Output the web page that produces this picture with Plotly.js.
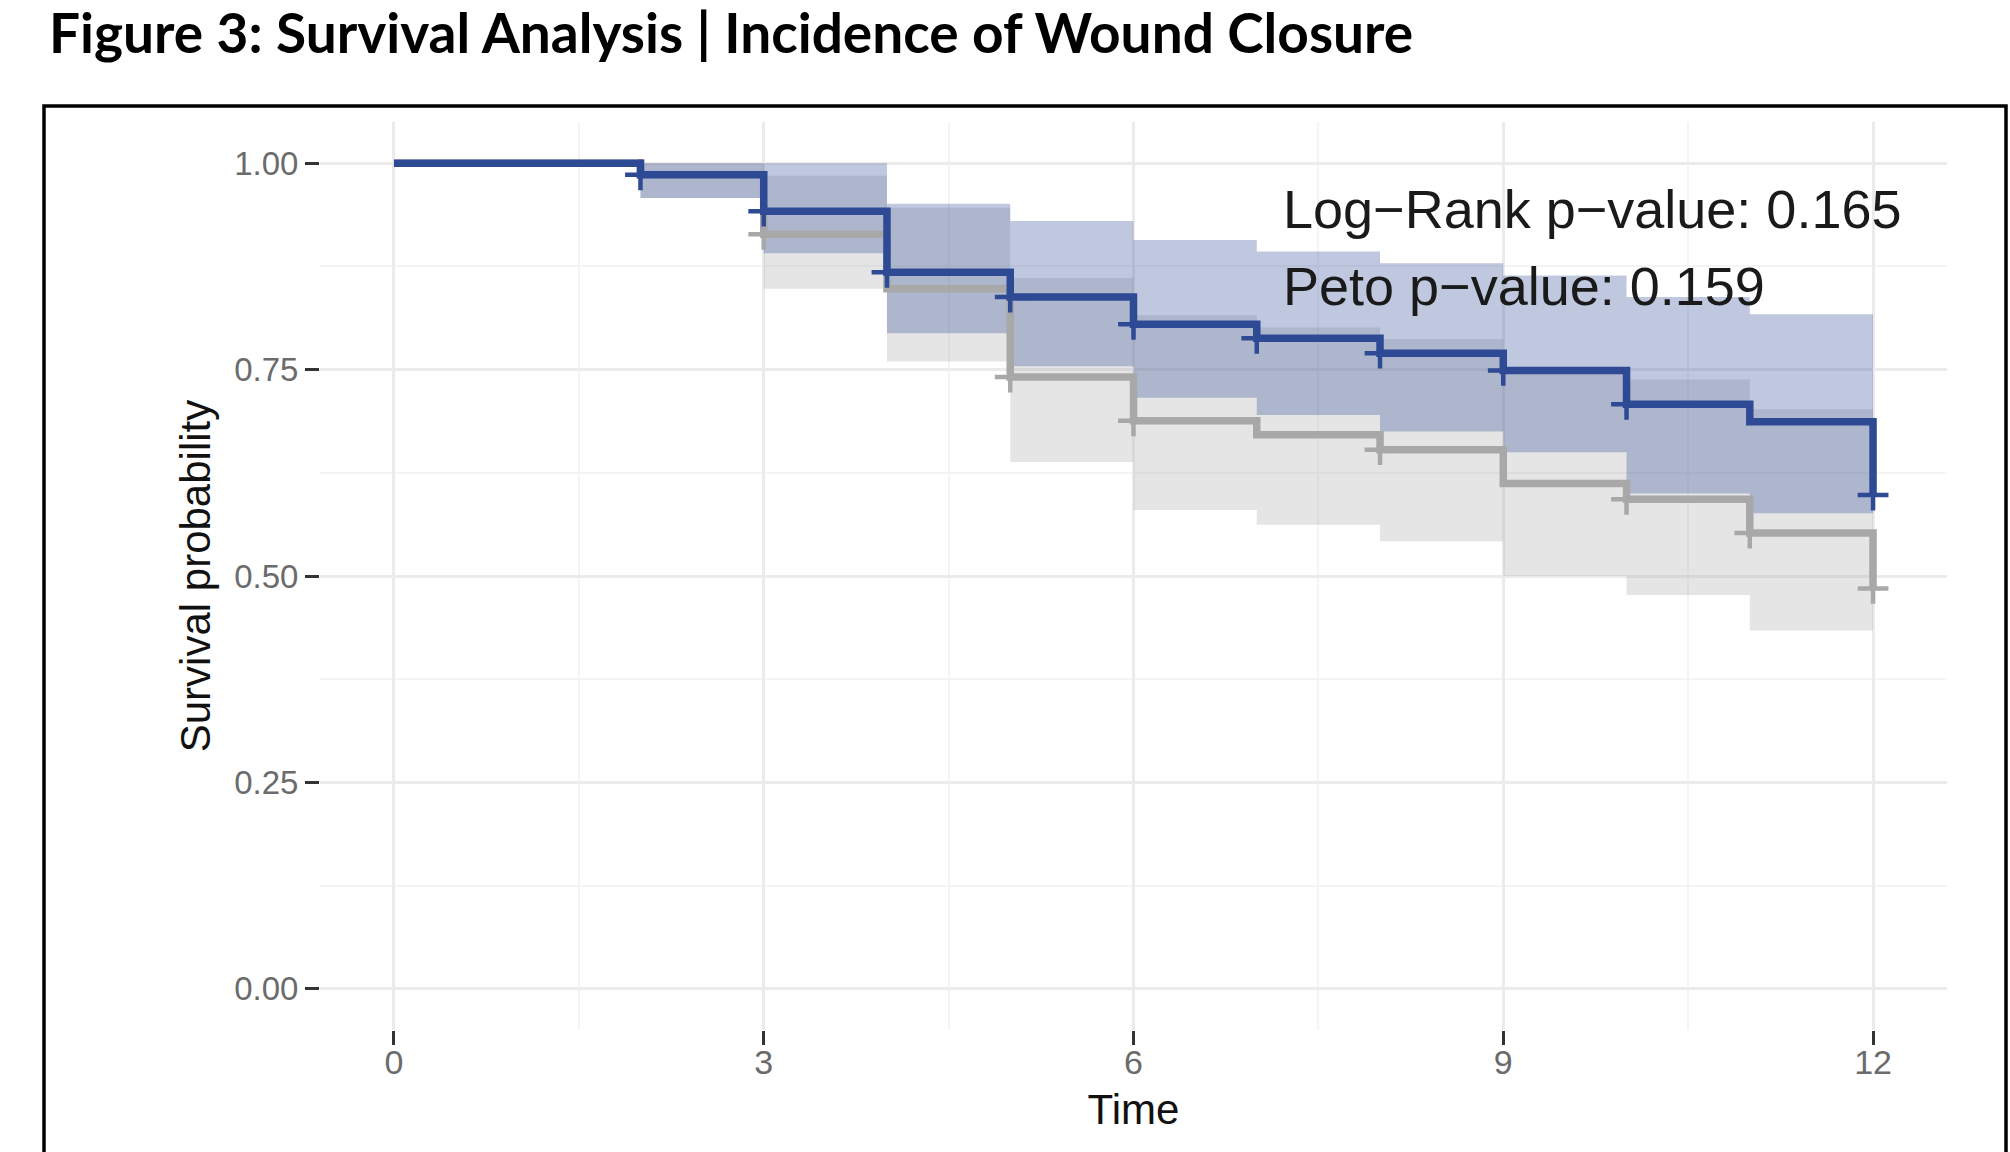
<!DOCTYPE html>
<html><head><meta charset="utf-8">
<script src="https://cdn.plot.ly/plotly-3.0.1.min.js"></script>
<style>html,body{margin:0;padding:0;background:#fff;} #chart{width:2010px;height:1152px;}</style>
</head><body><div id="chart"></div>
<script>
// Step times (months) and Kaplan-Meier estimates
const times      = [0, 2, 3, 4, 5, 6, 7, 8, 9, 10, 11, 12];
const survBlue   = [1.000, 0.986, 0.942, 0.868, 0.838, 0.805, 0.788, 0.770, 0.749, 0.708, 0.687, 0.598];
const upperBlue  = [1.000, 1.000, 1.000, 0.951, 0.930, 0.907, 0.893, 0.879, 0.864, 0.838, 0.817, 0.817];
const lowerBlue  = [1.000, 0.958, 0.891, 0.794, 0.754, 0.716, 0.695, 0.675, 0.650, 0.600, 0.576, 0.576];
const survGrey   = [1.000, 0.986, 0.914, 0.848, 0.741, 0.688, 0.671, 0.653, 0.612, 0.593, 0.552, 0.485];
const upperGrey  = [1.000, 1.000, 0.985, 0.946, 0.861, 0.816, 0.801, 0.787, 0.749, 0.738, 0.702, 0.702];
const lowerGrey  = [1.000, 0.958, 0.848, 0.760, 0.638, 0.580, 0.562, 0.542, 0.500, 0.477, 0.434, 0.434];
const censorTimesBlue = [2, 3, 4, 5, 6, 7, 8, 9, 10, 12];
const censorTimesGrey = [3, 5, 6, 8, 10, 11, 12];
const xTickVals = [0, 3, 6, 9, 12];
const xTickText = ['0', '3', '6', '9', '12'];
const xMinorVals = [1.5, 4.5, 7.5, 10.5];
const yTickVals = [0, 0.25, 0.5, 0.75, 1];
const yTickText = ['0.00', '0.25', '0.50', '0.75', '1.00'];
const yMinorVals = [0.125, 0.375, 0.625, 0.875];
const pLabels = ['Log\u2212Rank p\u2212value: 0.165', 'Peto p\u2212value: 0.159'];
const figTitle = 'Figure 3: Survival Analysis | Incidence of Wound Closure';

const BLUE = '#2E4A94', GREY = '#A8A8A8';
const FONT = 'Liberation Sans, Arial, Helvetica, sans-serif';
const at = (arr, t) => arr[times.indexOf(t)];

function band(upper, lower, fill) {
  return [
    {x: times, y: upper, type: 'scatter', mode: 'lines', line: {shape: 'hv', width: 0}, hoverinfo: 'skip'},
    {x: times, y: lower, type: 'scatter', mode: 'lines', line: {shape: 'hv', width: 0}, fill: 'tonexty', fillcolor: fill, hoverinfo: 'skip'}
  ];
}

const traces = [
  ...band(upperGrey, lowerGrey, 'rgba(170,170,170,0.30)'),
  ...band(upperBlue, lowerBlue, 'rgba(46,74,148,0.30)'),
  {x: times, y: survGrey, type: 'scatter', mode: 'lines', line: {shape: 'hv', width: 7.5, color: GREY}},
  {x: times, y: survBlue, type: 'scatter', mode: 'lines', line: {shape: 'hv', width: 7.5, color: BLUE}},
  {x: censorTimesGrey, y: censorTimesGrey.map(t => at(survGrey, t)), type: 'scatter', mode: 'markers',
   marker: {symbol: 'cross-thin', size: 22, color: GREY, line: {width: 4.5, color: GREY}}},
  {x: censorTimesBlue, y: censorTimesBlue.map(t => at(survBlue, t)), type: 'scatter', mode: 'markers',
   marker: {symbol: 'cross-thin', size: 22, color: BLUE, line: {width: 4.5, color: BLUE}}}
];

const L = 320, R = 63, T = 122, B = 122, W = 2010, H = 1152;
const pw = W - L - R, ph = H - T - B;
const px = v => (v - L) / pw, py = v => (H - B - v) / ph;

const layout = {
  width: W, height: H,
  margin: {l: L, r: R, t: T, b: B, pad: 0},
  paper_bgcolor: '#fff', plot_bgcolor: '#fff',
  showlegend: false,
  title: {text: figTitle, x: 49 / W, xanchor: 'left', xref: 'container', y: 1 - 34 / H, yanchor: 'middle', yref: 'container',
          font: {family: 'Lato, Open Sans, sans-serif', size: 55, weight: 700, color: '#000'}},
  xaxis: {
    range: [-0.6, 12.6], tickmode: 'array', tickvals: xTickVals, ticktext: xTickText,
    ticks: 'outside', ticklen: 14, tickwidth: 3, tickcolor: '#333', ticklabelstandoff: -12,
    showgrid: true, gridcolor: '#EBEBEB', gridwidth: 3, zeroline: false, showline: false,
    minor: {tickmode: 'array', tickvals: xMinorVals, showgrid: true, gridcolor: '#F4F4F4', gridwidth: 2, ticks: ''},
    tickfont: {family: FONT, size: 34, color: '#6b6b6b'},
    title: {text: 'Time', font: {family: FONT, size: 42, color: '#111'}, standoff: 14}
  },
  yaxis: {
    range: [-0.05, 1.05], tickmode: 'array', tickvals: yTickVals, ticktext: yTickText,
    ticks: 'outside', ticklen: 14, tickwidth: 3, tickcolor: '#333',
    showgrid: true, gridcolor: '#EBEBEB', gridwidth: 3, zeroline: false, showline: false,
    minor: {tickmode: 'array', tickvals: yMinorVals, showgrid: true, gridcolor: '#F4F4F4', gridwidth: 2, ticks: ''},
    tickfont: {family: FONT, size: 33, color: '#6b6b6b'},
    title: {text: 'Survival probability', font: {family: FONT, size: 42, color: '#111'}, standoff: 10}
  },
  annotations: [
    {x: 7.2, y: 0.945, xref: 'x', yref: 'y', text: pLabels[0], showarrow: false, xanchor: 'left', yanchor: 'middle',
     font: {family: FONT, size: 54, color: '#1a1a1a'}},
    {x: 7.2, y: 0.851, xref: 'x', yref: 'y', text: pLabels[1], showarrow: false, xanchor: 'left', yanchor: 'middle',
     font: {family: FONT, size: 54, color: '#1a1a1a'}}
  ],
  shapes: [
    {type: 'rect', xref: 'paper', yref: 'paper', x0: px(44), x1: px(2006), y0: py(1170), y1: py(106),
     line: {color: '#000', width: 3.5}, fillcolor: 'rgba(0,0,0,0)', layer: 'above'}
  ]
};

Plotly.newPlot('chart', traces, layout, {staticPlot: true, displayModeBar: false});
</script>
</body></html>
